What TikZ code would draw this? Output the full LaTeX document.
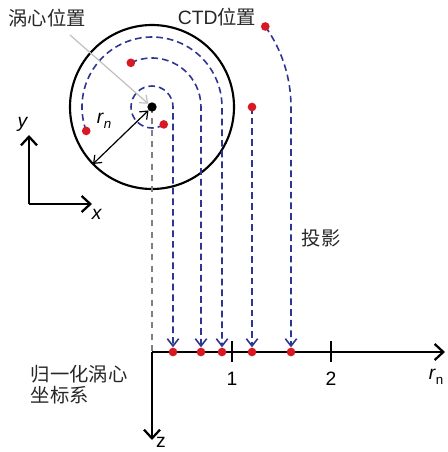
\documentclass[tikz,border=0pt]{standalone}
\usepackage{fontspec}
\setmainfont{Liberation Sans}
\newfontfamily\cjk{Noto Sans CJK SC}
\usetikzlibrary{arrows.meta,calc}
\definecolor{proj}{RGB}{45,55,145}
\definecolor{ctd}{RGB}{215,25,35}

\begin{document}
\begin{tikzpicture}[x=0.75pt,y=-0.75pt,font=\fontsize{14.5}{16}\selectfont,
  projline/.style={proj,line width=1.2pt,dash pattern=on 5pt off 3pt,shorten >=3.5pt,-{Straight Barb[length=5.5pt,width=8.5pt]}},
  ctddot/.style={circle,fill=ctd,inner sep=0pt,minimum size=6.5pt},
  axisline/.style={line width=1.7pt,-{Straight Barb[length=6.5pt,width=12pt]}}]
 \useasboundingbox (0,0) rectangle (447,452);
 \coordinate (c) at (152,107);
 \coordinate (o) at (152,352);
 \coordinate (rend) at (445,352);
 \coordinate (zend) at (152,440);
 % vortex
 \draw[line width=1.6pt] (c) circle[radius=82];
 \draw[gray,line width=0.9pt,dash pattern=on 4.5pt off 4pt] (c) -- (o);
 % CTD stations and their places on the r_n axis
 \foreach \n/\x in {1/173,2/201,3/222,4/252,5/291}{
   \coordinate (a\n) at (\x,352);
 }
 \coordinate (s1) at ($(c)+(56:21)$);
 \coordinate (s2) at ($(c)+(-115.6:49)$);
 \coordinate (s3) at ($(c)+(-200:70)$);
 \coordinate (s4) at ($(c)+(0:100)$);
 \coordinate (s5) at ($(c)+(-35.4:139)$);
 % projections
 \draw[projline] (s1) arc[start angle=56,end angle=360,radius=21] -- (a1);
 \draw[projline] (s2) arc[start angle=-115.6,end angle=0,radius=49] -- (a2);
 \draw[projline] (s3) arc[start angle=-200,end angle=0,radius=70] -- (a3);
 \draw[projline] (s4) -- (a4);
 \draw[projline] (s5) arc[start angle=-35.4,end angle=0,radius=139] -- (a5);
 % normalised frame
 \draw[axisline] (o) -- (rend);
 \draw[axisline] (o) -- (zend);
 \foreach \x/\l in {232/1,331/2}{
   \draw[line width=1.5pt] (\x,341) -- (\x,362);
   \node (tick\l) at (\x,379) {\l};
 }
 \foreach \n in {1,...,5}{
   \node[ctddot] (p\n) at (s\n) {};
   \node[ctddot] (q\n) at (a\n) {};
 }
 % centre and radius
 \node[circle,fill,inner sep=0pt,minimum size=7pt] (vc) at (c) {};
 \coordinate (rim) at ($(c)+(136:82)$);
 \draw[line width=0.9pt,{Straight Barb[length=5pt,width=8pt]}-{Straight Barb[length=5pt,width=8pt]}] (vc) -- (rim);
 \node (rnin) at (104,121) {\textit{r}\raisebox{-0.45ex}{\fontsize{10}{10}\selectfont\textit{n}}};
 % labels
 \node[black!85] (vlbl) at (47,18) {\cjk 涡心位置};
 \coordinate (vtail) at (70,35);
 \draw[black!25,line width=0.9pt,-{Straight Barb[length=5pt,width=8pt]}] (vtail) -- (vc);
 \node[black!85] (ctdlbl) at (217,17) {CTD{\cjk 位置}};
 \node[black!85] (projlbl) at (321,238) {\cjk 投影};
 % x-y frame
 \coordinate (xy) at (29,204);
 \coordinate (xend) at (92,204);
 \coordinate (yend) at (29,135);
 \draw[axisline] (xy) -- (xend);
 \draw[axisline] (xy) -- (yend);
 \node (xlbl) at (97,214) {\textit{x}};
 \node (ylbl) at (23,124) {\textit{y}};
 \node (rnlbl) at (436,377) {\textit{r}\raisebox{-0.45ex}{\fontsize{10}{10}\selectfont n}};
 \node (zlbl) at (161,442) {z};
 \node[black!85,align=left,anchor=north west,font=\cjk\fontsize{14.5}{15.5}\selectfont] (frlbl) at (26,361) {归一化涡心\\坐标系};
\end{tikzpicture}
\end{document}
